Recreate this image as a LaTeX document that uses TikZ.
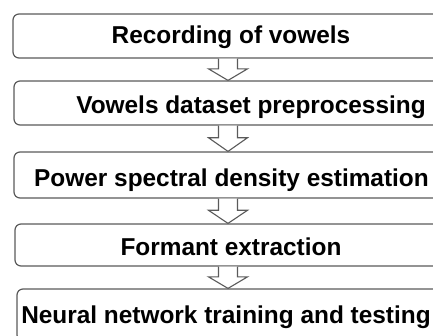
\documentclass[tikz,border=0pt]{standalone}
\usepackage{fontspec}
\setmainfont{Liberation Sans}
\usetikzlibrary{calc}
\definecolor{edge}{HTML}{5A5A5A}
\tikzset{
  stagebox/.style={draw=edge, line width=1.2pt, rounded corners=6pt, inner sep=0pt, fill=white},
  stagetext/.style={anchor=base, inner sep=0pt, font=\fontsize{24.4}{28}\selectfont\bfseries},
  hollowarrow/.style={draw=edge, line width=1.1pt, fill=white, line join=miter}
}
\newcommand{\blockarrow}[2]{%
  \draw[hollowarrow] let \p1=(#1.south), \p2=(#2.north) in
    (218.5pt,\y1) -- (218.5pt,{\y1+0.47*(\y2-\y1)}) -- (208.5pt,{\y1+0.47*(\y2-\y1)})
    -- (228pt,\y2) -- (247.5pt,{\y1+0.47*(\y2-\y1)}) -- (237.5pt,{\y1+0.47*(\y2-\y1)})
    -- (237.5pt,\y1);}
\begin{document}
\begin{tikzpicture}[x=1pt,y=-1pt]
\useasboundingbox (0,0) rectangle (433,335);
\node[stagebox, minimum width=437pt, minimum height=44pt] (b1) at (231.5,36) {};
\node[stagebox, minimum width=436pt, minimum height=44pt] (b2) at (232,103) {};
\node[stagebox, minimum width=436pt, minimum height=46pt] (b3) at (232,175) {};
\node[stagebox, minimum width=435pt, minimum height=42pt] (b4) at (232.5,245) {};
\node[stagebox, minimum width=433pt, minimum height=52pt] (b5) at (233.5,315) {};
\node[stagetext] (t1) at (231,43) {Recording of vowels};
\node[stagetext] (t2) at (251,113.5) {Vowels dataset preprocessing};
\node[stagetext] (t3) at (231.5,186) {Power spectral density estimation};
\node[stagetext] (t4) at (231,255) {Formant extraction};
\node[stagetext] (t5) at (226,323) {Neural network training and testing};
\blockarrow{b1}{b2}
\blockarrow{b2}{b3}
\blockarrow{b3}{b4}
\blockarrow{b4}{b5}
\end{tikzpicture}
\end{document}
